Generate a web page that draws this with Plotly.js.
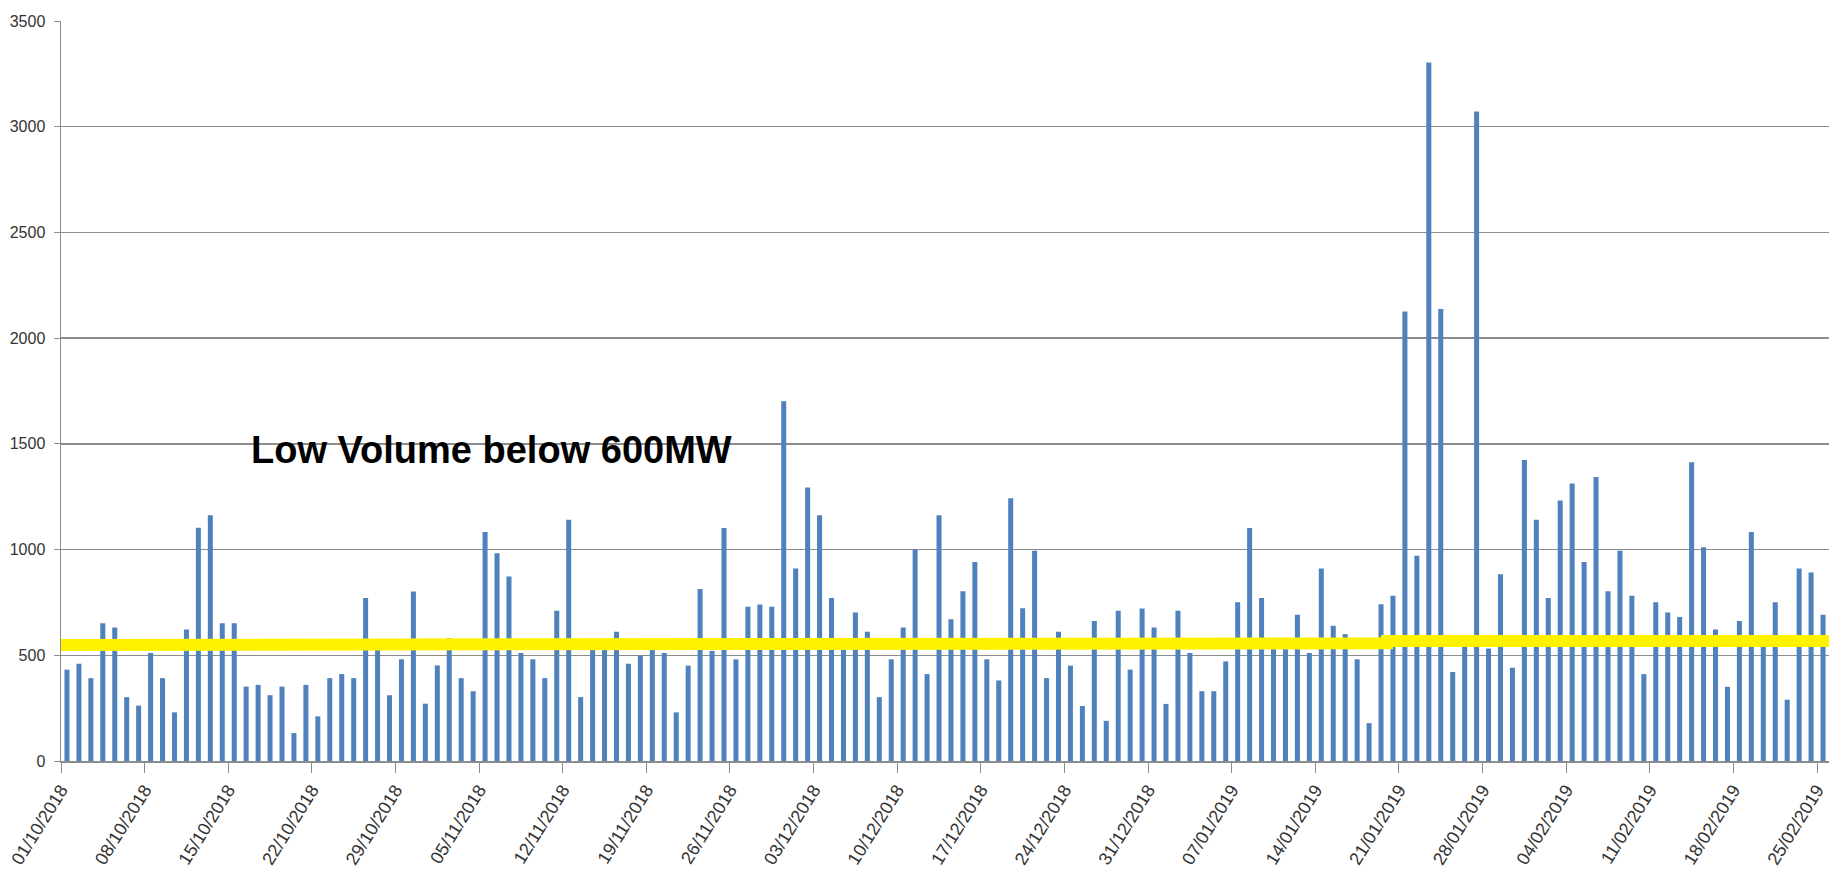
<!DOCTYPE html>
<html>
<head>
<meta charset="utf-8">
<script src="https://cdn.plot.ly/plotly-3.0.1.min.js"></script>
<style>
html, body { margin: 0; padding: 0; background: #ffffff; }
#chart { width: 1835px; height: 886px; }
</style>
</head>
<body>
<div id="chart"></div>
<script>
// Daily volume (MW) from 01/10/2018 to 25/02/2019
var startDate = '2018-10-01';
var volumes = [
  432, 460, 392, 651, 632, 302, 262, 511, 392, 230,
  622, 1103, 1162, 651, 651, 352, 360, 311, 352, 132,
  360, 211, 392, 411, 392, 771, 540, 311, 481, 802,
  271, 452, 581, 392, 330, 1083, 983, 873, 511, 481,
  392, 711, 1141, 302, 550, 550, 611, 460, 498, 550,
  511, 230, 451, 813, 521, 1102, 481, 730, 740, 730,
  1702, 911, 1294, 1162, 771, 550, 702, 611, 302, 481,
  632, 1000, 411, 1162, 671, 803, 941, 481, 381, 1243,
  722, 995, 392, 611, 451, 260, 662, 190, 711, 432,
  721, 632, 270, 711, 511, 330, 330, 471, 751, 1102,
  771, 550, 550, 692, 511, 911, 640, 600, 481, 179,
  741, 781, 2126, 971, 3304, 2138, 421, 560, 3072, 532,
  883, 441, 1424, 1141, 771, 1232, 1313, 941, 1343, 803,
  995, 781, 411, 751, 702, 681, 1413, 1011, 622, 351,
  662, 1083, 550, 751, 290, 911, 892, 692
];

// Hand-drawn yellow "low volume" marker line
var markerX = ['2018-10-01', '2018-11-07 05:00', '2018-11-07 05:00', '2019-01-20', '2019-01-20', '2019-02-26'];
var markerY = [549, 549, 557, 557, 568, 568];

var annotationText = 'Low Volume below 600MW';

// Build the category dates
function pad(n) { return (n < 10 ? '0' : '') + n; }
function iso(d) { return d.getUTCFullYear() + '-' + pad(d.getUTCMonth() + 1) + '-' + pad(d.getUTCDate()); }
var dates = [];
var d0 = new Date(startDate + 'T00:00:00Z');
for (var i = 0; i < volumes.length; i++) {
  dates.push(iso(new Date(d0.getTime() + i * 86400000)));
}
var endDate = iso(new Date(d0.getTime() + volumes.length * 86400000));

var barTrace = {
  type: 'bar',
  x: dates,
  y: volumes,
  xperiod: 86400000,
  xperiodalignment: 'middle',
  marker: { color: '#4F81BD', line: { width: 0 } },
  hoverinfo: 'x+y',
  showlegend: false
};

var lineTrace = {
  type: 'scatter',
  mode: 'lines',
  x: markerX,
  y: markerY,
  line: { color: '#FFF200', width: 12 },
  hoverinfo: 'skip',
  showlegend: false
};

var layout = {
  width: 1835,
  height: 886,
  margin: { l: 61, r: 6, t: 21, b: 125 },
  paper_bgcolor: '#ffffff',
  plot_bgcolor: '#ffffff',
  bargap: 0.58,
  font: { family: 'Liberation Sans, Arial, sans-serif', color: '#333333' },
  xaxis: {
    type: 'date',
    range: [startDate, endDate],
    tick0: startDate,
    dtick: 7 * 86400000,
    tickformat: '%d/%m/%Y',
    tickangle: -58,
    ticks: 'outside',
    ticklen: 10,
    tickwidth: 1,
    tickcolor: '#8c8c8c',
    showline: true,
    linecolor: '#8c8c8c',
    linewidth: 1.5,
    showgrid: false,
    zeroline: false,
    tickfont: { size: 18, color: '#333333', family: 'Liberation Sans, Arial, sans-serif' }
  },
  yaxis: {
    range: [0, 3500],
    dtick: 500,
    tick0: 0,
    ticks: 'outside',
    ticklen: 6,
    tickwidth: 1,
    tickcolor: '#8c8c8c',
    showline: true,
    linecolor: '#8c8c8c',
    linewidth: 1.5,
    showgrid: true,
    gridcolor: '#8c8c8c',
    gridwidth: 1.5,
    zeroline: false,
    ticklabelstandoff: 5,
    tickfont: { size: 16, color: '#333333', family: 'Liberation Sans, Arial, sans-serif' }
  },
  annotations: [{
    text: '<b>' + annotationText + '</b>',
    xref: 'x', yref: 'y',
    x: '2018-10-16 17:00', y: 1470,
    xanchor: 'left', yanchor: 'middle',
    showarrow: false,
    font: { family: 'Liberation Sans, Arial, sans-serif', size: 38, color: '#000000' }
  }]
};

Plotly.newPlot('chart', [barTrace, lineTrace], layout, { displayModeBar: false, staticPlot: true });
</script>
</body>
</html>
